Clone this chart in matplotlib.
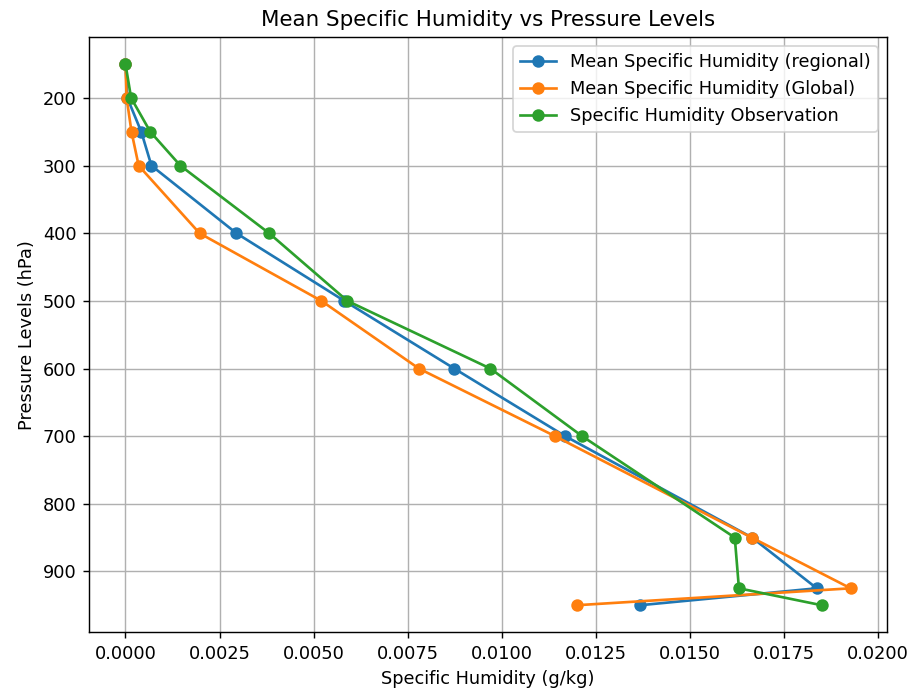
import numpy as np
import matplotlib
matplotlib.use("Agg")
import matplotlib.pyplot as plt

# pressure levels (hPa)
levels = [150, 200, 250, 300, 400, 500, 600, 700, 850, 925, 950]

# specific humidity values
q_regional = [0.00000, 0.00005, 0.00042, 0.00069, 0.00295, 0.00582,
              0.00874, 0.01169, 0.01666, 0.01838, 0.01368]
q_global = [0.00000, 0.00003, 0.00016, 0.00035, 0.00197, 0.00521,
            0.00780, 0.01142, 0.01665, 0.01928, 0.01200]
q_obs = [0.00000, 0.00015, 0.00066, 0.00146, 0.00382, 0.00590,
         0.00970, 0.01214, 0.01620, 0.01631, 0.01851]

fig, ax = plt.subplots(figsize=(920 / 128, 688 / 128), dpi=128)

ax.plot(q_regional, levels, marker='o', label='Mean Specific Humidity (regional)')
ax.plot(q_global, levels, marker='o', label='Mean Specific Humidity (Global)')
ax.plot(q_obs, levels, marker='o', label='Specific Humidity Observation')

ax.invert_yaxis()
ax.set_xlabel('Specific Humidity (g/kg)')
ax.set_ylabel('Pressure Levels (hPa)')
ax.set_title('Mean Specific Humidity vs Pressure Levels')
ax.legend()
ax.grid(True)

plt.subplots_adjust(left=0.097, right=0.964, top=0.946, bottom=0.081)
plt.savefig('out.png')
